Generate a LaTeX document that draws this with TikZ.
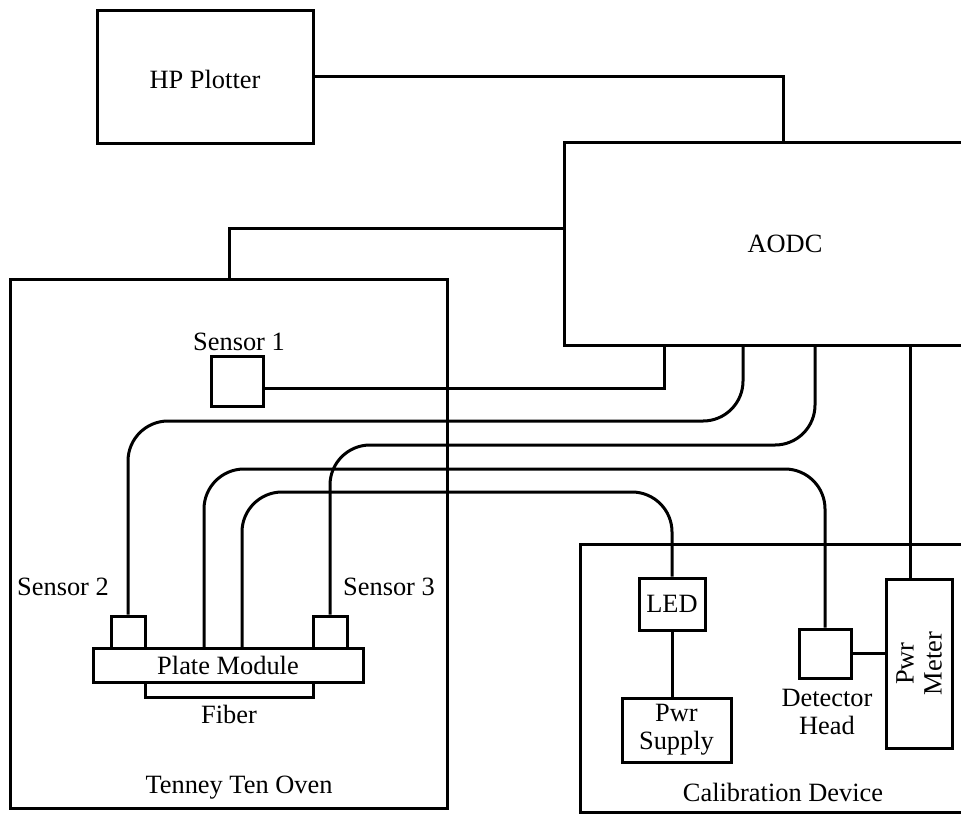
\documentclass[tikz,border=0pt]{standalone}
\usepackage{fontspec}
\setmainfont{Liberation Serif}
\usetikzlibrary{fit}

\begin{document}
\begin{tikzpicture}[
	x=0.5pt, y=-0.5pt,
	box/.style={draw, inner sep=0pt},
	lbl/.style={inner sep=0pt},
	cable/.style={rounded corners=20pt},
	font=\fontsize{13.2}{14}\selectfont, line width=1.5pt
	]
	\useasboundingbox (0,0) rectangle (961,814);
	\clip (0,0) rectangle (961,814);
	% plotter and AODC
	\node[box, fit={(97,10) (313,143)}] (pltr) {};
	\node[box, fit={(564,142) (1006,345)}] (aodc) {};
	\node[lbl] (l-pltr) at ([yshift=-1.5pt]pltr.center) {HP Plotter};
	\node[lbl] (l-aodc) at (aodc.center) {AODC};
	% oven
	\node[box, fit={(10,279) (447,808)}] (oven) {};
	\node[box, fit={(211,356) (263,406)}] (s1) {};
	\node[box, fit={(111,616) (145,648)}] (s2) {};
	\node[box, fit={(313,616) (347,648)}] (s3) {};
	\node[box, fit={(93,648) (363,682)}] (plate) {};
	\node[box, fit={(145,682) (313,697)}] (fiber) {};
	\node[lbl] (l-plate) at (plate.center) {Plate Module};
	\node[lbl, anchor=base] (l-s1) at (239,350) {Sensor 1};
	\node[lbl, anchor=base] (l-s2) at (63,595) {Sensor 2};
	\node[lbl, anchor=base] (l-s3) at (389,595) {Sensor 3};
	\node[lbl, anchor=base] (l-fiber) at (229,723) {Fiber};
	\node[lbl, anchor=base] (l-oven) at (239,793) {Tenney Ten Oven};
	% calibration device
	\node[box, fit={(580,544) (986,812)}] (cal) {};
	\node[box, fit={(639,578) (705,630)}] (led) {};
	\node[box, fit={(622,698) (731,762)}] (psu) {};
	\node[box, fit={(799,629) (851,678)}] (det) {};
	\node[box, fit={(886,579) (952,748)}] (pwrm) {};
	\node[lbl] (l-led) at (led.center) {LED};
	\node[lbl, align=center] (l-psu) at (psu.center) {Pwr\\Supply};
	\node[lbl, anchor=north, align=center] (l-det) at (827,688) {Detector\\Head};
	\node[lbl, rotate=90, align=center] (l-pm) at (pwrm.center) {Pwr\\Meter};
	\node[lbl, anchor=base] (l-cal) at (783,801) {Calibration Device};
	% ports
	\coordinate (p-plt) at (783,142);
	\coordinate (p-aodc) at (564,228);
	\coordinate (p-oven) at (229,279);
	\coordinate (p-s1) at (664,345);
	\coordinate (p-s2) at (743,345);
	\coordinate (p-s3) at (815,345);
	\coordinate (p-pm) at (910,345);
	\coordinate (p-det) at (204,648);
	\coordinate (p-led) at (242,648);
	% heights of the cable runs
	\coordinate (y-s2) at (0,421);
	\coordinate (y-s3) at (0,445);
	\coordinate (y-det) at (0,469);
	\coordinate (y-led) at (0,492);
	% cables
	\draw (pltr.east) -| (p-plt);
	\draw (p-aodc) -| (p-oven);
	\draw ([yshift=-3.5pt]s1.east) -| (p-s1);
	\draw[cable] (s2.north) |- (p-s2 |- y-s2) -- (p-s2);
	\draw[cable] (s3.north) |- (p-s3 |- y-s3) -- (p-s3);
	\draw[cable] (p-det) |- (det.north |- y-det) -- (det.north);
	\draw[cable] (p-led) |- (led.north |- y-led) -- (led.north);
	\draw (p-pm) -- (p-pm |- pwrm.north);
	\draw (led.south) -- (led.south |- psu.north);
	\draw (det.east) -- (det.east -| pwrm.west);
\end{tikzpicture}
\end{document}
